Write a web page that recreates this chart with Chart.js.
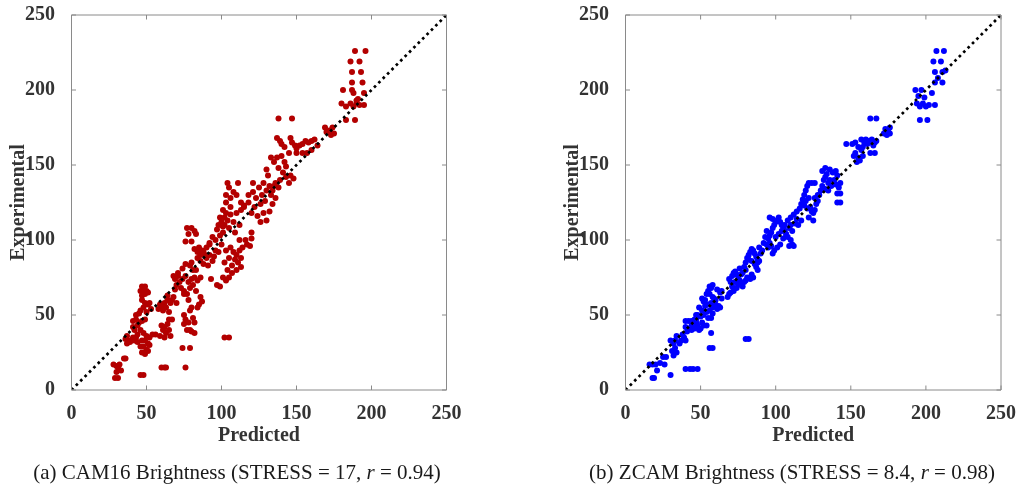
<!DOCTYPE html>
<html>
<head>
<meta charset="utf-8">
<script src="https://cdn.jsdelivr.net/npm/chart.js@4.4.1/dist/chart.umd.min.js"></script>
<style>
  html, body { margin: 0; padding: 0; background: #fff; }
  #wrap { position: relative; width: 1019px; height: 484px; overflow: hidden; }
  .pane { position: absolute; top: 0; height: 484px; }
  .cap { position: absolute; top: 459px; line-height: 26px; font-family: "Liberation Serif", "Times New Roman", serif; font-size: 21px; color: #1a1a1a; white-space: nowrap; text-align: center; }
</style>
</head>
<body>
<div id="wrap">
  <div class="pane" style="left:0;width:510px"><canvas id="c1" width="510" height="484"></canvas></div>
  <div class="pane" style="left:510px;width:509px"><canvas id="c2" width="509" height="484"></canvas></div>
  <div class="cap" id="cap1" style="left:0;width:474px">(a) CAM16 Brightness (STRESS = 17, <i>r</i> = 0.94)</div>
  <div class="cap" id="cap2" style="left:555px;width:474px">(b) ZCAM Brightness (STRESS = 8.4, <i>r</i> = 0.98)</div>
</div>
<script>
// ---- data ----
const axisTicks = [0, 50, 100, 150, 200, 250];
const xTitle = "Predicted";
const yTitle = "Experimental";
const diagonal = [[0, 0], [250, 250]];

// (a) CAM16: [predicted, experimental]
const cam16Points = [
  [189,226],[196,226],[186,219],[192,219],[187,212],[193,212],[187,205],[194,205],[181,200],[187,200],[188,198],[195,198],
  [180,191],[183,189],[186,191],[188,189],[190,191],[192,190],[195,190],[183,180],[189,180],[190,193],[191,194],
  [169,175],[170,172],[174,175],[175,171],[172,173],[173,170],
  [138,181],[147,181],[137,168],[139,166],[140,164],[142,162],[146,168],[147,165],[149,163],[150,161],[152,163],[154,164],
  [156,166],[158,165],[160,166],[162,167],[164,163],[157,158],[150,158],[145,158],[160,160],[154,158],
  [133,155],[135,152],[137,155],[140,156],[142,152],[143,149],[138,148],[130,147],[131,143],[141,145],[143,142],[146,143],
  [148,141],[145,138],[139,140],[135,136],[134,133],
  [121,138],[128,138],[125,135],[121,132],[118,130],[123,128],[127,130],[130,133],[132,136],[129,126],[126,124],[122,122],
  [118,125],[115,123],[113,120],[120,118],[124,116],[128,118],[132,119],[130,113],[126,112],[134,124],[136,128],[138,135],
  [136,138],[133,130],
  [104,138],[111,138],[105,135],[103,130],[106,128],[108,132],[110,130],[103,125],[106,122],[101,120],[99,115],[100,112],
  [102,110],[104,113],[106,117],[98,110],[97,107],[101,105],[105,108],[108,112],[110,118],[113,125],[115,122],[112,110],
  [99,103],[96,100],[94,102],[92,98],[109,105],[102,115],[103,118],[101,109],[100,110],
  [100,97],[103,93],[106,95],[108,92],[110,90],[112,93],[109,87],[105,88],[102,85],[107,83],[111,85],[113,88],[104,80],
  [107,78],[110,80],[101,75],[105,75],[103,73],[112,100],[116,100],[117,97],[120,105],[120,101],[119,96],[114,95],[113,82],
  [82,94],[84,92],[86,90],[88,92],[90,88],[92,90],[94,86],[86,86],[88,84],[84,88],[90,95],[92,97],[96,93],[91,83],[95,89],
  [98,92],[93,74],[97,70],[99,69],[80,85],[83,80],[85,95],[87,93],[89,90],
  [77,108],[80,108],[82,106],[78,104],[80,99],[76,99],[83,104],
  [68,76],[69,74],[71,76],[72,72],[74,74],[76,76],[78,72],[80,74],[82,75],[84,73],[86,75],[70,70],[73,68],[75,66],[79,68],
  [81,70],[77,64],[83,66],[79,83],[81,80],[74,81],[76,84],[71,78],[69,67],[86,62],[85,57],[84,55],[87,59],[78,60],[75,64],
  [58,54],[60,56],[62,58],[64,60],[66,58],[67,60],[61,53],[63,55],[65,52],[59,57],[70,58],[64,63],[68,62],
  [60,43],[62,42],[64,44],[61,40],[63,38],[65,40],[59,36],[66,36],[67,47],[65,47],[62,35],
  [75,50],[76,47],[78,45],[75,44],[79,40],[82,38],[80,39],[81,48],[82,45],[80,55],[79,53],[77,40],
  [47,69],[49,69],[46,66],[48,67],[50,66],[47,63],[49,64],[51,65],[47,60],[49,58],[51,57],[48,55],[46,53],[50,52],[52,58],[53,54],
  [43,50],[45,51],[41,46],[43,47],[45,45],[41,42],[44,43],[47,46],[49,47],[42,40],[46,40],[48,38],[50,36],[47,33],[49,33],
  [51,31],[48,29],[46,29],[50,27],[47,25],[49,24],[52,35],[54,37],[56,37],[52,30],[51,26],
  [36,34],[38,33],[40,33],[42,33],[44,32],[37,31],[39,32],[41,35],[43,35],[37,36],[44,37],
  [28,17],[30,16],[31,15],[32,17],[29,8],[31,8],[35,21],[36,21],[33,13],[30,12],[46,10],[48,10],[60,15],[62,15],[63,15],
  [76,15],[74,28],[79,28],[102,35],[105,35]
];

// (b) ZCAM: [predicted, experimental]
const zcamPoints = [
  [16,17],[18,17],[20,17],[21,13],[18,8],[19,8],[23,18],[25,22],[27,22],[26,17],[30,10],[40,14],[43,14],[45,14],[48,14],
  [56,28],[58,28],[57,38],[80,34],[82,34],
  [30,33],[32,31],[33,28],[34,25],[32,23],[31,26],[33,33],[34,36],[36,31],[37,33],[38,37],[39,35],[40,33],[41,39],[40,42],
  [42,41],[44,40],[45,42],[44,46],[46,47],[47,45],[48,43],[49,40],[50,41],[52,43],[54,43],[51,45],[50,49],[52,50],[48,50],
  [47,50],[40,46],[42,46],[44,43],[46,41],[55,48],[57,48],[58,51],[56,53],[54,52],[51,53],[53,56],[55,57],[57,58],[58,55],
  [60,57],[61,54],[62,56],[63,55],[60,60],[59,61],[58,62],[56,64],[54,64],[55,66],[57,68],[58,70],[56,69],[53,60],[52,59],
  [51,61],[64,66],[63,65],[61,67],[64,61],[49,55],[47,47],
  [68,62],[69,64],[70,65],[72,66],[71,69],[70,72],[69,74],[71,76],[72,78],[73,79],[74,77],[75,74],[76,73],[77,71],[78,69],
  [79,72],[80,73],[81,75],[83,74],[85,75],[84,77],[78,78],[79,82],[80,85],[81,88],[82,90],[83,92],[84,94],[85,93],[86,91],
  [87,89],[88,87],[89,86],[88,85],[86,84],[84,86],[82,87],[80,80],[77,77],[76,81],[75,70],[74,68],[73,72],[87,82],[88,80],
  [90,91],[91,93],[89,95],
  [92,98],[94,97],[95,101],[96,103],[97,105],[98,108],[99,110],[100,112],[101,113],[102,115],[103,112],[104,110],[105,108],
  [106,106],[107,104],[108,102],[110,100],[111,97],[112,96],[109,96],[107,103],[105,101],[103,97],[101,95],[99,93],[98,91],
  [97,96],[95,95],[96,98],[100,102],[102,104],[104,106],[106,110],[108,113],[110,115],[112,117],[114,119],[116,121],
  [113,111],[115,110],[117,113],[114,114],[110,110],[109,108],[111,106],[96,115],[98,114],[94,106],[93,102],
  [117,124],[118,127],[119,130],[120,133],[121,136],[122,138],[124,138],[126,138],[120,126],[122,128],[123,122],[124,119],
  [125,118],[126,120],[121,121],[119,123],[122,115],[125,113],[127,124],[128,126],[129,130],[130,133],[131,136],[132,140],
  [133,142],[134,144],[131,146],[133,148],[136,147],[138,145],[140,146],[141,143],[139,140],[136,140],[135,138],[137,136],
  [140,137],[142,135],[143,138],[141,131],[143,131],[141,125],[143,125],[128,130],[126,128],[133,134],[135,133],
  [147,164],[151,164],[152,156],[153,158],[155,155],[156,153],[154,152],[157,160],[158,162],[159,165],[160,167],[161,164],
  [162,166],[163,165],[164,167],[165,163],[166,165],[167,166],[166,158],[163,158],[158,156],[155,162],[157,167],[153,165],
  [163,181],[167,181],[172,171],[173,174],[175,172],[176,175],[174,170],[176,171],
  [193,200],[197,200],[195,196],[199,195],[194,191],[196,189],[198,191],[200,189],[202,190],[206,190],[204,198],[196,180],
  [201,180],[206,205],[211,205],[206,212],[211,212],[205,219],[210,219],[207,226],[212,226],[208,208],[213,213]
];

// ---- drawing ----
const boxPlugin = {
  id: 'boxTicks',
  afterDatasetsDraw(chart) {
    const {ctx, chartArea: a, scales: {x, y}} = chart;
    ctx.save();
    ctx.strokeStyle = '#8a8a8a';
    ctx.lineWidth = 1;
    ctx.beginPath();
    ctx.rect(a.left, a.top, a.right - a.left, a.bottom - a.top);
    const tl = 4.5;
    axisTicks.forEach(v => {
      const px = x.getPixelForValue(v);
      ctx.moveTo(px, a.bottom); ctx.lineTo(px, a.bottom - tl);
      ctx.moveTo(px, a.top); ctx.lineTo(px, a.top + tl);
      const py = y.getPixelForValue(v);
      ctx.moveTo(a.left, py); ctx.lineTo(a.left + tl, py);
      ctx.moveTo(a.right, py); ctx.lineTo(a.right - tl, py);
    });
    ctx.stroke();
    ctx.restore();
  }
};

function zeroPad(s) { s.paddingTop = 0; s.paddingBottom = 0; s.paddingLeft = 0; s.paddingRight = 0; }

function makeChart(id, pts, color, padLeft, padRight) {
  const tickFont = {family: '"Liberation Serif", "Times New Roman", serif', size: 20, weight: 'bold'};
  return new Chart(document.getElementById(id), {
    type: 'scatter',
    data: {
      datasets: [
        {
          type: 'line',
          data: diagonal.map(p => ({x: p[0], y: p[1]})),
          borderColor: '#000',
          borderWidth: 2.7,
          borderDash: [2.7, 3.5],
          pointRadius: 0,
          fill: false,
          order: 0
        },
        {
          data: pts.map(p => ({x: p[0], y: p[1]})),
          backgroundColor: color,
          borderWidth: 0,
          pointRadius: 3,
          order: 1
        }
      ]
    },
    options: {
      responsive: false,
      animation: false,
      events: [],
      layout: {padding: {left: padLeft, right: padRight, top: 15, bottom: 0}},
      plugins: {legend: {display: false}, tooltip: {enabled: false}},
      scales: {
        x: {
          type: 'linear', min: 0, max: 250,
          afterBuildTicks: s => { s.ticks = axisTicks.map(v => ({value: v})); },
          afterFit: s => { s.height = 94; zeroPad(s); },
          grid: {display: false},
          border: {display: false},
          ticks: {font: tickFont, color: '#333', padding: 4},
          title: {display: true, text: xTitle, font: tickFont, color: '#333', padding: {top: 0, bottom: 36}}
        },
        y: {
          type: 'linear', min: 0, max: 250,
          afterBuildTicks: s => { s.ticks = axisTicks.map(v => ({value: v})); },
          afterFit: s => { s.width = 71.5; zeroPad(s); },
          grid: {display: false},
          border: {display: false},
          ticks: {font: tickFont, color: '#333', padding: 8.5},
          title: {display: true, text: yTitle, font: tickFont, color: '#333', padding: {top: 7, bottom: 0}}
        }
      }
    },
    plugins: [boxPlugin]
  });
}

makeChart('c1', cam16Points, '#b30000', 0, 63.5);
makeChart('c2', zcamPoints, '#0000ff', 44, 18);
</script>
</body>
</html>
